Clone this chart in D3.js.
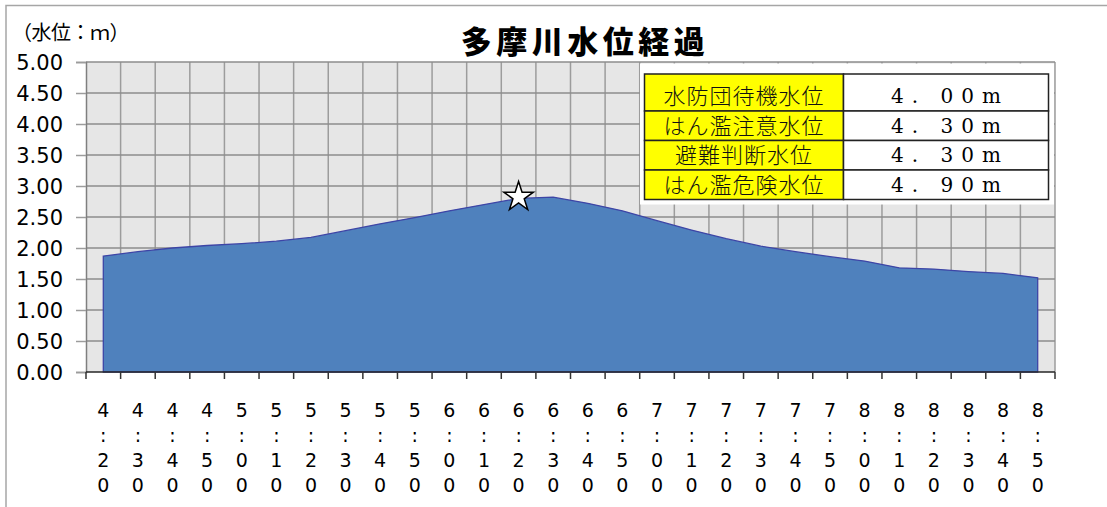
<!DOCTYPE html>
<html>
<head>
  <meta charset="utf-8">
  <title>多摩川水位経過</title>
  <script src="https://cdn.jsdelivr.net/npm/d3@7"></script>
  <style>
    body { margin: 0; background: #fff; }
    svg { display: block; }
  </style>
</head>
<body>
<svg id="chart" width="1107" height="507"></svg>
<script>
  // 1. data
  var times = ["4:20","4:30","4:40","4:50","5:00","5:10","5:20","5:30","5:40","5:50",
               "6:00","6:10","6:20","6:30","6:40","6:50","7:00","7:10","7:20","7:30",
               "7:40","7:50","8:00","8:10","8:20","8:30","8:40","8:50"];
  var levels = [1.87,1.94,2.00,2.04,2.07,2.11,2.17,2.28,2.39,2.49,
                2.60,2.70,2.80,2.82,2.72,2.60,2.44,2.29,2.15,2.03,
                1.94,1.86,1.79,1.68,1.66,1.62,1.59,1.52];
  var yTicks = [0,0.5,1,1.5,2,2.5,3,3.5,4,4.5,5];
  var starTime = "6:20";
  var stageNames = ["水防団待機水位","はん濫注意水位","避難判断水位","はん濫危険水位"];
  var stageLevels = ["4. 00m","4. 30m","4. 30m","4. 90m"];

  // 2. layout (plot box)
  var pL = 86, pR = 1055, pT = 62, pB = 372;
  var svg = d3.select("#chart");

  // 3. scales
  var x = d3.scaleBand().domain(times).range([pL, pR]);
  var y = d3.scaleLinear().domain([0, 5]).range([pB, pT]);
  var bw = x.bandwidth();
  var cx = function(t){ return x(t) + bw / 2; };

  // outer frame
  svg.append("path")
    .attr("d", "M6,507V5.5H1107")
    .attr("fill", "none").attr("stroke", "#a6a6a6").attr("stroke-width", 1.5);

  // plot background
  svg.append("rect")
    .attr("x", pL).attr("y", pT)
    .attr("width", pR - pL).attr("height", pB - pT)
    .attr("fill", "#e6e6e6");

  // gridlines
  var bounds = times.map(function(t){ return x(t); }).concat([pR]);
  svg.append("g").selectAll("line").data(bounds.slice(1)).enter().append("line")
    .attr("x1", function(d){ return d; }).attr("x2", function(d){ return d; })
    .attr("y1", pT).attr("y2", pB)
    .attr("stroke", "#9c9c9c").attr("stroke-width", 1.5);
  svg.append("g").selectAll("line").data(yTicks.slice(1)).enter().append("line")
    .attr("x1", pL).attr("x2", pR)
    .attr("y1", function(d){ return y(d); }).attr("y2", function(d){ return y(d); })
    .attr("stroke", "#8c8c8c").attr("stroke-width", 1.5);

  // area
  var area = d3.area()
    .x(function(d, i){ return cx(times[i]); })
    .y0(pB)
    .y1(function(d){ return y(d); });
  svg.append("path")
    .datum(levels)
    .attr("d", function(d){ return area(d) + "Z"; })
    .attr("fill", "#4f81bd")
    .attr("stroke", "#3d45a6").attr("stroke-width", 1.3);

  // y axis
  var yAxis = svg.append("g")
    .attr("transform", "translate(" + pL + ",0)")
    .call(d3.axisLeft(y).tickValues(yTicks).tickSize(10).tickPadding(13)
      .tickFormat(d3.format(".2f")));
  yAxis.select(".domain").attr("stroke", "#7f7f7f").attr("stroke-width", 1.5);
  yAxis.selectAll(".tick line").attr("stroke", "#9c9c9c").attr("stroke-width", 1.5);
  yAxis.selectAll(".tick text")
    .attr("fill", "#000")
    .attr("dy", "0.38em")
    .style("font-family", "'DejaVu Sans', sans-serif")
    .style("font-size", "21px");

  // x axis
  svg.append("line")
    .attr("x1", pL).attr("x2", pR).attr("y1", pB).attr("y2", pB)
    .attr("stroke", "#262626").attr("stroke-width", 1.5);
  svg.append("g").selectAll("line").data(bounds).enter().append("line")
    .attr("x1", function(d){ return d; }).attr("x2", function(d){ return d; })
    .attr("y1", pB).attr("y2", pB + 7)
    .attr("stroke", "#333").attr("stroke-width", 1.5);

  var xl = svg.append("g").selectAll("text").data(times).enter().append("text")
    .attr("text-anchor", "middle")
    .style("font-family", "'DejaVu Sans', sans-serif")
    .style("font-size", "19px")
    .attr("fill", "#000");
  xl.each(function(t){
    var el = d3.select(this);
    t.split("").forEach(function(c, k){
      el.append("tspan")
        .attr("x", cx(t))
        .attr("y", 417 + k * 25)
        .text(c);
    });
  });

  // star at peak
  svg.append("path")
    .attr("d", d3.symbol().type(d3.symbolStar).size(270)())
    .attr("transform", "translate(" + cx(starTime) + ",197)")
    .attr("fill", "#fff").attr("stroke", "#000").attr("stroke-width", 1.5);

  // title
  svg.append("text")
    .attr("x", 585).attr("y", 53)
    .attr("text-anchor", "middle")
    .style("font-family", "'Noto Sans CJK JP', sans-serif")
    .style("font-size", "31px").style("font-weight", "900")
    .style("letter-spacing", "4.5px")
    .text("多摩川水位経過");

  svg.append("text")
    .attr("x", 12).attr("y", 40)
    .style("font-family", "'Noto Sans CJK JP', sans-serif")
    .style("font-size", "20px")
    .style("letter-spacing", "-0.5px")
    .text("（水位：ｍ）");

  // stage table
  svg.append("rect")
    .attr("x", 640).attr("y", 63.5).attr("width", 414).attr("height", 141)
    .attr("fill", "#fff");
  var rowY = [74, 111, 140.5, 170, 199.5];
  var colL = 644.5, colM = 843.5, colR = 1048.5;
  var rows = svg.append("g").selectAll("g").data(stageNames).enter().append("g");
  rows.append("rect")
    .attr("x", colL).attr("y", function(d, i){ return rowY[i]; })
    .attr("width", colM - colL).attr("height", function(d, i){ return rowY[i + 1] - rowY[i]; })
    .attr("fill", "#ffff00").attr("stroke", "#222").attr("stroke-width", 1.5);
  rows.append("rect")
    .attr("x", colM).attr("y", function(d, i){ return rowY[i]; })
    .attr("width", colR - colM).attr("height", function(d, i){ return rowY[i + 1] - rowY[i]; })
    .attr("fill", "#fff").attr("stroke", "#222").attr("stroke-width", 1.5);
  rows.append("text")
    .attr("x", (colL + colM) / 2)
    .attr("y", function(d, i){ return rowY[i + 1] - 7; })
    .attr("text-anchor", "middle")
    .style("font-family", "'Noto Sans CJK JP', sans-serif")
    .style("font-size", "22px")
    .style("letter-spacing", "1px")
    .style("font-weight", "300")
    .attr("fill", "#111")
    .text(function(d){ return d; });
  rows.append("text")
    .attr("x", 950)
    .attr("y", function(d, i){ return rowY[i + 1] - 8; })
    .attr("text-anchor", "middle")
    .style("font-family", "'DejaVu Serif', serif")
    .style("font-size", "20px")
    .style("letter-spacing", "8px")
    .attr("fill", "#000")
    .text(function(d, i){ return stageLevels[i]; });
</script>
</body>
</html>
